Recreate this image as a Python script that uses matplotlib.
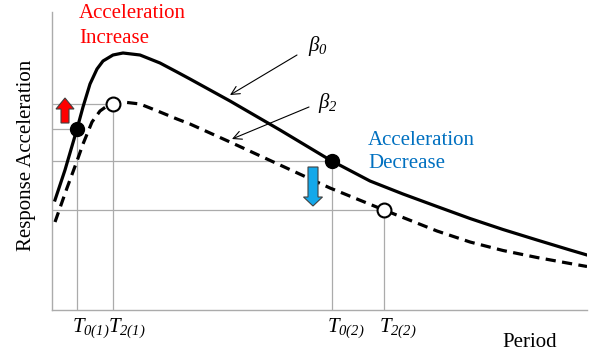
import numpy as np
import matplotlib.pyplot as plt
from matplotlib.patches import FancyArrow

plt.rcParams['font.family'] = ['Liberation Serif', 'DejaVu Serif']
plt.rcParams['mathtext.fontset'] = 'custom'
plt.rcParams['mathtext.rm'] = 'Liberation Serif'
plt.rcParams['mathtext.it'] = 'Liberation Serif:italic'
# bf slot used for italic digits (the 'it' slot forces digits upright)
plt.rcParams['mathtext.bf'] = 'Liberation Serif:italic'

# response spectrum, damping beta0 (solid) and beta2 (dashed)
period_b0 = [0.03, 0.13, 0.25, 0.31, 0.38, 0.45, 0.51, 0.61, 0.71, 0.88, 1.08,
             1.25, 1.38, 1.78, 2.28, 2.78, 3.18, 3.51, 3.85, 4.18, 4.51, 4.85,
             5.18, 5.35]
accel_b0 = [1.10, 1.40, 1.81, 2.03, 2.26, 2.41, 2.49, 2.55, 2.57, 2.55, 2.47,
            2.38, 2.31, 2.09, 1.80, 1.50, 1.29, 1.16, 1.035, 0.915, 0.805, 0.70,
            0.60, 0.55]
period_b2 = [0.03, 0.15, 0.25, 0.31, 0.40, 0.48, 0.55, 0.61, 0.71, 0.88, 1.08,
             1.25, 1.38, 1.78, 2.28, 2.78, 3.32, 3.51, 3.85, 4.18, 4.51, 4.85,
             5.18, 5.35]
accel_b2 = [0.88, 1.22, 1.49, 1.66, 1.88, 1.99, 2.04, 2.06, 2.08, 2.06, 1.98,
            1.91, 1.86, 1.68, 1.45, 1.22, 1.00, 0.925, 0.79, 0.68, 0.595, 0.525,
            0.465, 0.435]

# marked periods
t0_period = [0.25, 2.80]
t0_accel = [1.81, 1.49]
t2_period = [0.61, 3.32]
t2_accel = [2.06, 1.00]
t0_labels = [r'$T_{\mathbf{0(1)}}$', r'$T_{\mathbf{0(2)}}$']
t2_labels = [r'$T_{\mathbf{2(1)}}$', r'$T_{\mathbf{2(2)}}$']

grey = '#ababab'
fs = 15

fig = plt.figure(figsize=(5.92, 3.54), dpi=100)
ax = fig.add_axes([52 / 592, 44 / 354, 535 / 592, 298 / 354])
ax.set_xlim(0, 5.35)
ax.set_ylim(0, 2.98)
for s in ['top', 'right']:
    ax.spines[s].set_visible(False)
for s in ['left', 'bottom']:
    ax.spines[s].set_color(grey)
    ax.spines[s].set_linewidth(1)
ax.set_xticks([])
ax.set_yticks([])

# guide lines to the marked points
for px, py in zip(t0_period + t2_period, t0_accel + t2_accel):
    ax.plot([0, px], [py, py], color=grey, lw=0.9, zorder=1)
    ax.plot([px, px], [0, py], color=grey, lw=0.9, zorder=1)

ax.plot(period_b0, accel_b0, color='black', lw=2.3, solid_joinstyle='round', zorder=3)
ax.plot(period_b2, accel_b2, color='black', lw=2.3, ls=(0, (3.2, 2.0)), zorder=3)

ax.plot(t0_period, t0_accel, 'o', ms=10, mfc='black', mec='black', zorder=5)
ax.plot(t2_period, t2_accel, 'o', ms=10, mfc='white', mec='black', mew=1.5, zorder=5)

for x, lab in zip(t0_period + t2_period, t0_labels + t2_labels):
    ax.text(x - 0.05, -0.22, lab, fontsize=fs, ha='left', va='baseline')

# beta labels with pointers
ax.annotate('', xy=(1.78, 2.15), xytext=(2.45, 2.55),
            arrowprops=dict(arrowstyle='->,head_length=0.6,head_width=0.3',
                            lw=0.8, color='black', shrinkA=0, shrinkB=0))
ax.annotate('', xy=(1.80, 1.71), xytext=(2.57, 2.03),
            arrowprops=dict(arrowstyle='->,head_length=0.6,head_width=0.3',
                            lw=0.8, color='black', shrinkA=0, shrinkB=0))
ax.text(2.56, 2.59, r'$\mathbf{β}_{\mathbf{0}}$', fontsize=fs, va='baseline')
ax.text(2.66, 2.02, r'$\mathbf{β}_{\mathbf{2}}$', fontsize=fs, va='baseline')

# block arrows
ax.add_patch(FancyArrow(0.13, 1.87, 0, 0.25, width=0.08, head_width=0.18,
                        head_length=0.11, length_includes_head=True,
                        fc='#ff0000', ec='#404040', lw=0.8, zorder=4))
ax.add_patch(FancyArrow(2.61, 1.43, 0, -0.39, width=0.10, head_width=0.19,
                        head_length=0.09, length_includes_head=True,
                        fc='#14a8ea', ec='#404040', lw=0.8, zorder=4))

ax.text(0.27, 2.92, 'Acceleration', color='#ff0000', fontsize=fs, va='baseline')
ax.text(0.27, 2.67, 'Increase', color='#ff0000', fontsize=fs, va='baseline')
ax.text(3.16, 1.65, 'Acceleration', color='#0070c0', fontsize=fs, va='baseline')
ax.text(3.16, 1.42, 'Decrease', color='#0070c0', fontsize=fs, va='baseline')

ax.text(4.50, -0.37, 'Period', fontsize=fs, va='baseline')
ax.text(-0.25, 1.55, 'Response Acceleration', fontsize=fs, rotation=90,
        ha='center', va='center')

fig.savefig('out.png', dpi=100)
